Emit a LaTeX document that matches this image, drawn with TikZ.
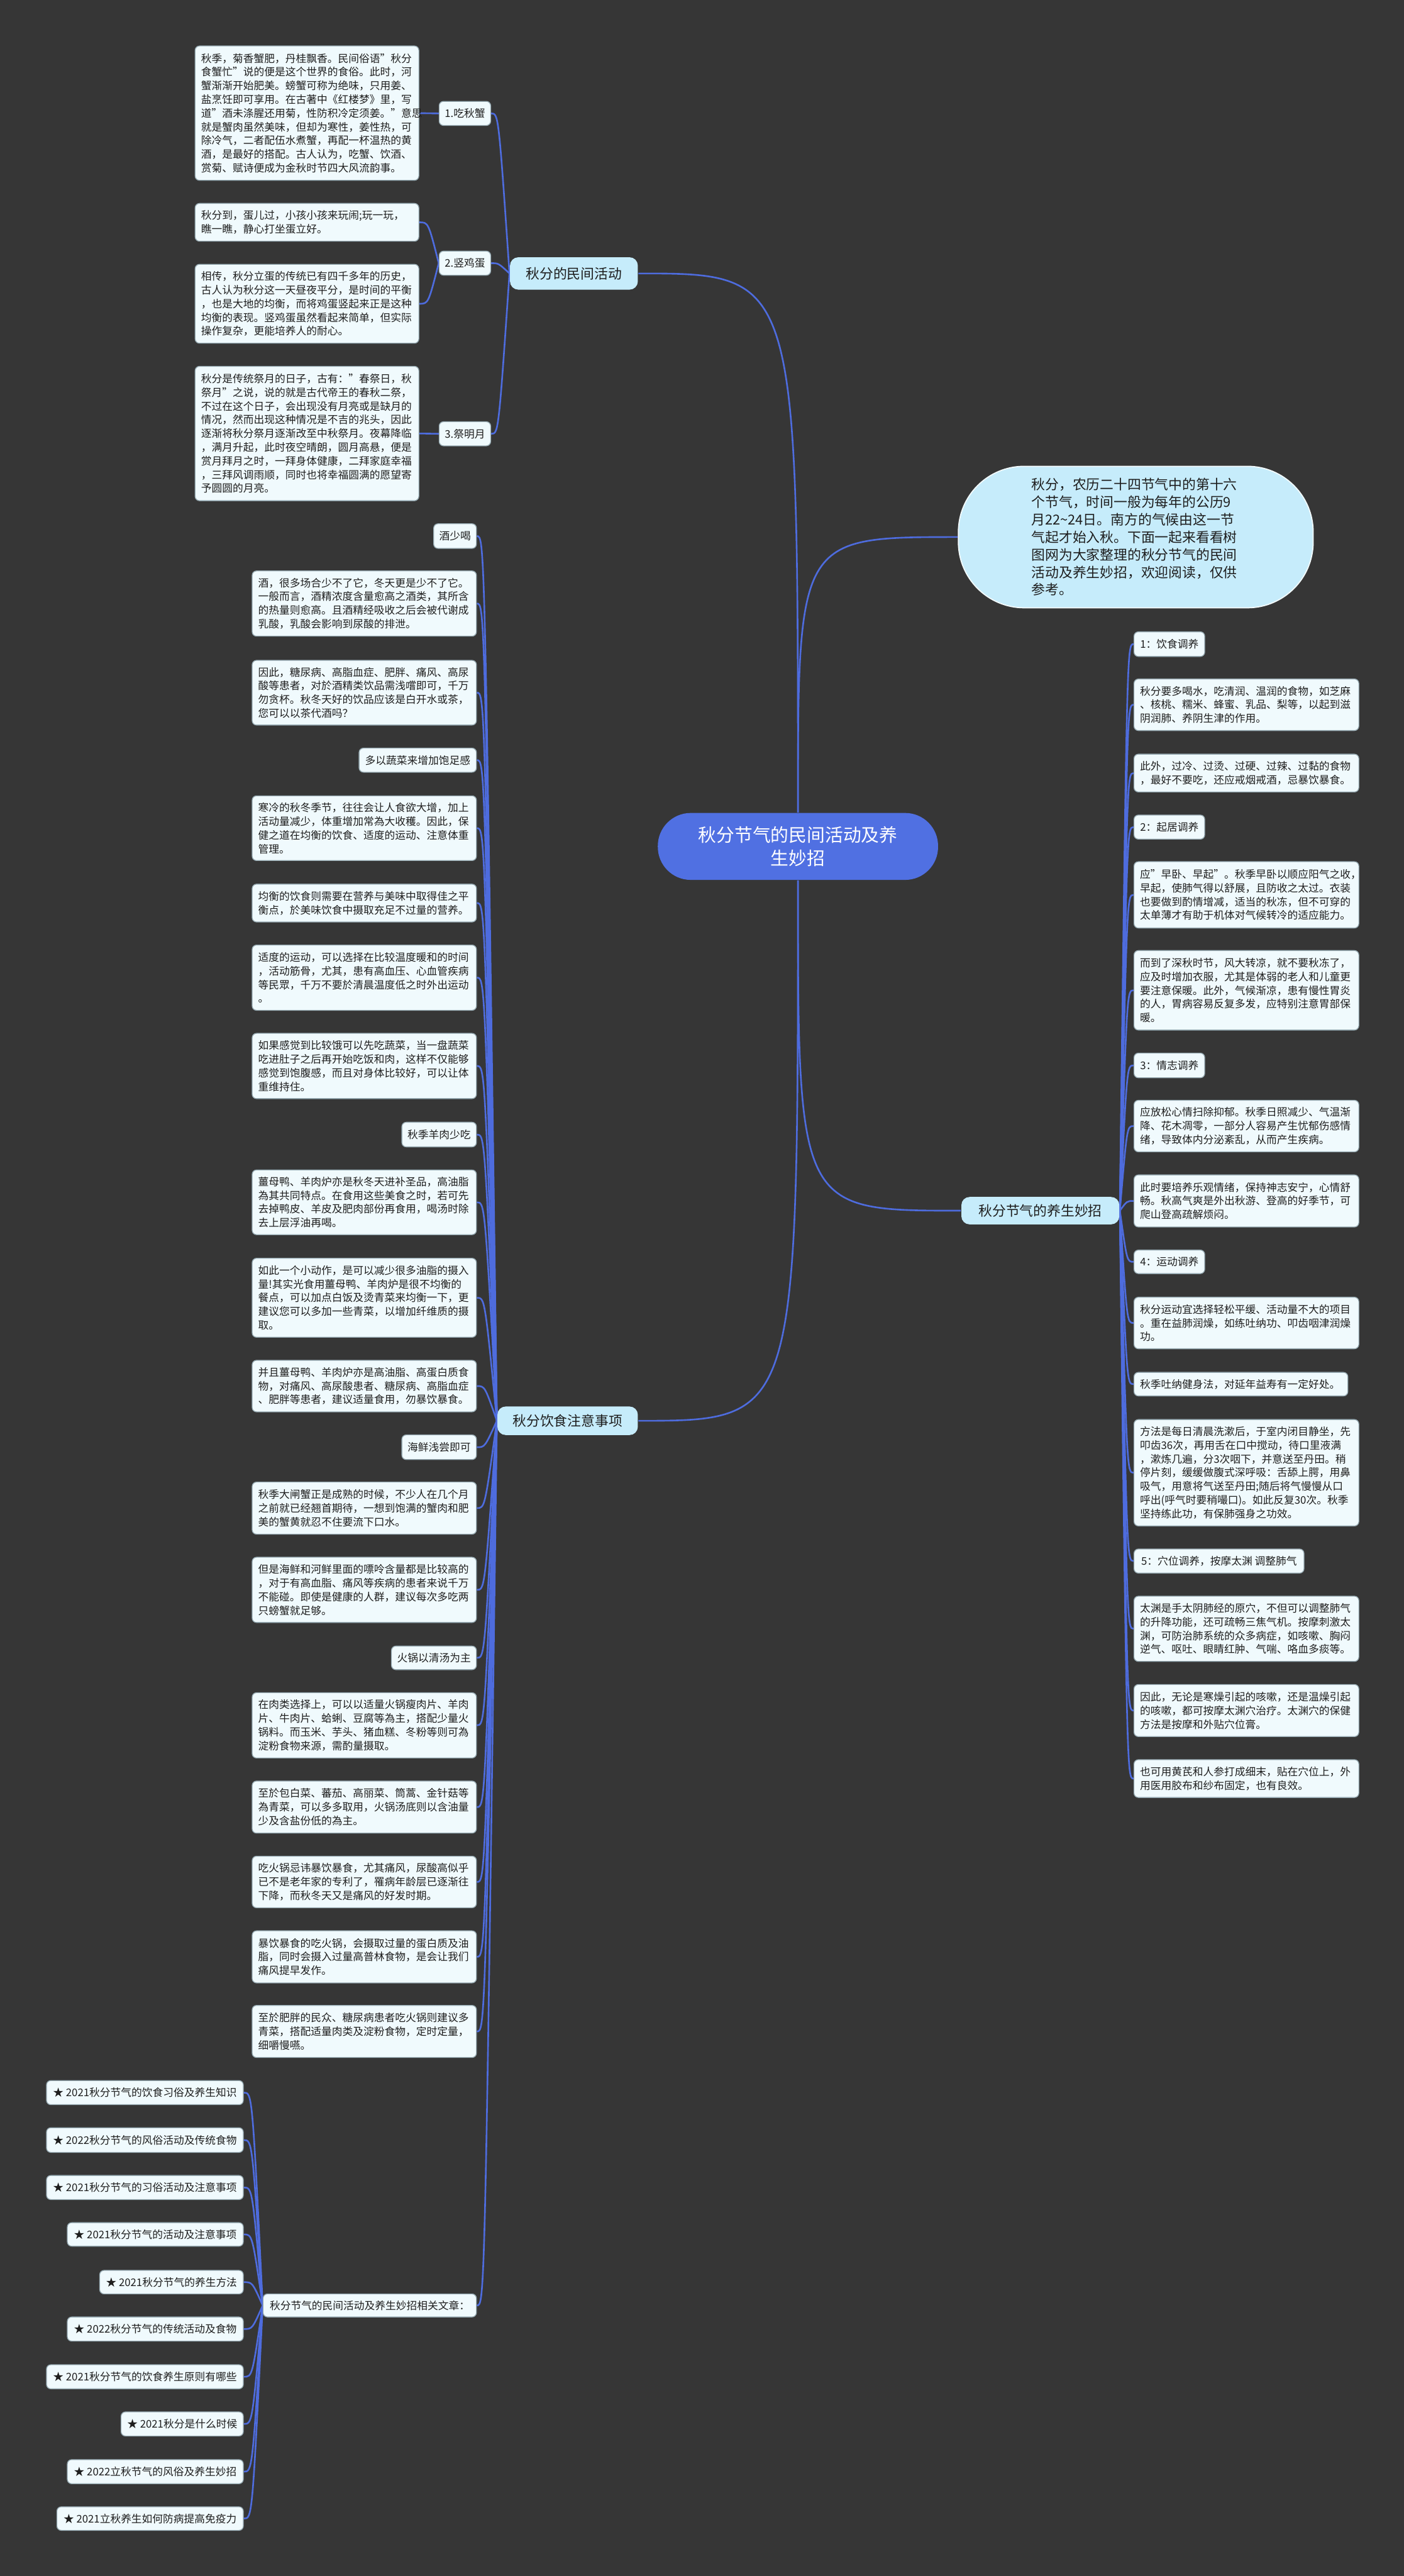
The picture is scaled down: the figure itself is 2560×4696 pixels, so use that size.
\documentclass[tikz,border=0pt]{standalone}
\usepackage{fontspec}
\setmainfont{Noto Sans CJK SC}
\usetikzlibrary{backgrounds}
\definecolor{bgc}{RGB}{54,54,54}
\definecolor{connc}{RGB}{78,108,222}
\definecolor{ctrc}{RGB}{80,112,226}
\definecolor{topc}{RGB}{198,236,251}
\definecolor{leafc}{RGB}{240,250,253}
\definecolor{leafd}{RGB}{150,170,178}
\definecolor{txtc}{RGB}{30,30,30}
\newcommand\fsS{\fontsize{3.84pt}{5pt}\selectfont}
\newcommand\fsM{\fontsize{5pt}{6.4pt}\selectfont}
\newcommand\fsL{\fontsize{6.6pt}{8.6pt}\selectfont}
\newdimen\bxtw
\newcommand\bx[7]{\bxtw=0.2pt\multiply\bxtw by \numexpr #5-#3-22\relax
\node[#1,anchor=north west,minimum width={(#5-#3)*0.2pt},minimum height={(#6-#4)*0.2pt},text width=\the\bxtw] (#2) at (#3,#4) {#7};}
\newcommand\lb[7]{\node[#1,anchor=north west,minimum width={(#5-#3)*0.2pt},minimum height={(#6-#4)*0.2pt}] (#2) at (#3,#4) {#7};}
\tikzset{
 leaf/.style={draw=leafd,line width=0.3pt,fill=leafc,rounded corners=1.6pt,inner sep=0pt,align=left,font=\fsS,text=txtc},
 lbl/.style={draw=leafd,line width=0.3pt,fill=leafc,rounded corners=1.6pt,inner sep=0pt,align=center,font=\fsS,text=txtc},
 topic/.style={fill=topc,rounded corners=3pt,inner sep=0pt,font=\fsM,text=txtc},
 conn/.style={draw=connc,line width=0.6pt},
}
\begin{document}
\begin{tikzpicture}[x=0.2pt,y=-0.2pt]
\useasboundingbox (0,0) rectangle (2560,4696);
% center
\node[fill=ctrc,rounded corners=12pt,minimum width=102.2pt,minimum height=24.4pt,inner sep=0pt,align=center,font=\fsL,text=white] (c) at (1455,1543) {秋分节气的民间活动及养\\生妙招};
% intro
\node[fill=topc,draw=white!80!topc,line width=0.4pt,rounded corners=24pt,minimum width=129.4pt,minimum height=51.6pt,inner sep=0pt,text width=76pt,align=left,font=\fsM,text=txtc] (intro) at (2071,979) {秋分，农历二十四节气中的第十六\\个节气，时间一般为每年的公历9\\月22\textasciitilde24日。南方的气候由这一节\\气起才始入秋。下面一起来看看树\\图网为大家整理的秋分节气的民间\\活动及养生妙招，欢迎阅读，仅供\\参考。};
% topics
\lb{topic}{act}{929}{468}{1162}{527}{秋分的民间活动}
\lb{topic}{ys}{906}{2563}{1162}{2615}{秋分饮食注意事项}
\lb{topic}{yang}{1752}{2181}{2040}{2231}{秋分节气的养生妙招}
% top-left
\bx{leaf}{b1}{355}{83}{763}{328}{秋季，菊香蟹肥，丹桂飘香。民间俗语"秋分\\食蟹忙"说的便是这个世界的食俗。此时，河\\蟹渐渐开始肥美。螃蟹可称为绝味，只用姜、\\盐烹饪即可享用。在古著中《红楼梦》里，写\\道"酒未涤腥还用菊，性防积冷定须姜。"意思\\就是蟹肉虽然美味，但却为寒性，姜性热，可\\除冷气，二者配伍水煮蟹，再配一杯温热的黄\\酒，是最好的搭配。古人认为，吃蟹、饮酒、\\赏菊、赋诗便成为金秋时节四大风流韵事。}
\bx{leaf}{b2}{355}{370}{763}{439}{秋分到，蛋儿过，小孩小孩来玩闹;玩一玩，\\瞧一瞧，静心打坐蛋立好。}
\bx{leaf}{b3}{355}{481}{763}{625}{相传，秋分立蛋的传统已有四千多年的历史，\\古人认为秋分这一天昼夜平分，是时间的平衡\\，也是大地的均衡，而将鸡蛋竖起来正是这种\\均衡的表现。竖鸡蛋虽然看起来简单，但实际\\操作复杂，更能培养人的耐心。}
\bx{leaf}{b4}{355}{667}{763}{912}{秋分是传统祭月的日子，古有："春祭日，秋\\祭月"之说，说的就是古代帝王的春秋二祭，\\不过在这个日子，会出现没有月亮或是缺月的\\情况，然而出现这种情况是不吉的兆头，因此\\逐渐将秋分祭月逐渐改至中秋祭月。夜幕降临\\，满月升起，此时夜空晴朗，圆月高悬，便是\\赏月拜月之时，一拜身体健康，二拜家庭幸福\\，三拜风调雨顺，同时也将幸福圆满的愿望寄\\予圆圆的月亮。}
\lb{lbl}{l1}{800}{184}{894}{228}{1.吃秋蟹}
\lb{lbl}{l2}{800}{457}{894}{501}{2.竖鸡蛋}
\lb{lbl}{l3}{800}{768}{894}{812}{3.祭明月}
% middle column
\lb{lbl}{jiu}{790}{954}{868}{999}{酒少喝}
\bx{leaf}{m1}{459}{1040}{868}{1159}{酒，很多场合少不了它，冬天更是少不了它。\\一般而言，酒精浓度含量愈高之酒类，其所含\\的热量则愈高。且酒精经吸收之后会被代谢成\\乳酸，乳酸会影响到尿酸的排泄。}
\bx{leaf}{m2}{459}{1203}{868}{1321}{因此，糖尿病、高脂血症、肥胖、痛风、高尿\\酸等患者，对於酒精类饮品需浅嚐即可，千万\\勿贪杯。秋冬天好的饮品应该是白开水或茶，\\您可以以茶代酒吗？}
\lb{lbl}{shucai}{654}{1363}{868}{1407}{多以蔬菜来增加饱足感}
\bx{leaf}{m3}{459}{1450}{868}{1568}{寒冷的秋冬季节，往往会让人食欲大增，加上\\活动量减少，体重增加常為大收穫。因此，保\\健之道在均衡的饮食、适度的运动、注意体重\\管理。}
\bx{leaf}{m4}{459}{1611}{868}{1680}{均衡的饮食则需要在营养与美味中取得佳之平\\衡点，於美味饮食中摄取充足不过量的营养。}
\bx{leaf}{m5}{459}{1722}{868}{1841}{适度的运动，可以选择在比较温度暖和的时间\\，活动筋骨，尤其，患有高血压、心血管疾病\\等民眾，千万不要於清晨温度低之时外出运动\\。}
\bx{leaf}{m6}{459}{1883}{868}{2002}{如果感觉到比较饿可以先吃蔬菜，当一盘蔬菜\\吃进肚子之后再开始吃饭和肉，这样不仅能够\\感觉到饱腹感，而且对身体比较好，可以让体\\重维持住。}
\lb{lbl}{yrou}{732}{2045}{868}{2090}{秋季羊肉少吃}
\bx{leaf}{m7}{459}{2132}{868}{2250}{薑母鸭、羊肉炉亦是秋冬天进补圣品，高油脂\\為其共同特点。在食用这些美食之时，若可先\\去掉鸭皮、羊皮及肥肉部份再食用，喝汤时除\\去上层浮油再喝。}
\bx{leaf}{m8}{459}{2293}{868}{2437}{如此一个小动作，是可以减少很多油脂的摄入\\量!其实光食用薑母鸭、羊肉炉是很不均衡的\\餐点，可以加点白饭及烫青菜来均衡一下，更\\建议您可以多加一些青菜，以增加纤维质的摄\\取。}
\bx{leaf}{m9}{459}{2479}{868}{2573}{并且薑母鸭、羊肉炉亦是高油脂、高蛋白质食\\物，对痛风、高尿酸患者、糖尿病、高脂血症\\、肥胖等患者，建议适量食用，勿暴饮暴食。}
\lb{lbl}{haixian}{732}{2615}{868}{2660}{海鲜浅尝即可}
\bx{leaf}{m10}{459}{2701}{868}{2796}{秋季大闸蟹正是成熟的时候，不少人在几个月\\之前就已经翘首期待，一想到饱满的蟹肉和肥\\美的蟹黄就忍不住要流下口水。}
\bx{leaf}{m11}{459}{2838}{868}{2957}{但是海鲜和河鲜里面的嘌呤含量都是比较高的\\，对于有高血脂、痛风等疾病的患者来说千万\\不能碰。即使是健康的人群，建议每次多吃两\\只螃蟹就足够。}
\lb{lbl}{huoguo}{713}{3000}{868}{3043}{火锅以清汤为主}
\bx{leaf}{m12}{459}{3085}{868}{3204}{在肉类选择上，可以以适量火锅瘦肉片、羊肉\\片、牛肉片、蛤蜊、豆腐等為主，搭配少量火\\锅料。而玉米、芋头、猪血糕、冬粉等则可為\\淀粉食物来源，需酌量摄取。}
\bx{leaf}{m13}{459}{3246}{868}{3341}{至於包白菜、蕃茄、高丽菜、筒蒿、金针菇等\\為青菜，可以多多取用，火锅汤底则以含油量\\少及含盐份低的為主。}
\bx{leaf}{m14}{459}{3383}{868}{3477}{吃火锅忌讳暴饮暴食，尤其痛风，尿酸高似乎\\已不是老年家的专利了，罹病年龄层已逐渐往\\下降，而秋冬天又是痛风的好发时期。}
\bx{leaf}{m15}{459}{3519}{868}{3614}{暴饮暴食的吃火锅，会摄取过量的蛋白质及油\\脂，同时会摄入过量高普林食物，是会让我们\\痛风提早发作。}
\bx{leaf}{m16}{459}{3655}{868}{3750}{至於肥胖的民众、糖尿病患者吃火锅则建议多\\青菜，搭配适量肉类及淀粉食物，定时定量，\\细嚼慢嚥。}
% bottom list
\lb{lbl}{rel}{479}{4181}{868}{4223}{秋分节气的民间活动及养生妙招相关文章：}
\lb{lbl}{it1}{84}{3792}{443}{3836}{★ 2021秋分节气的饮食习俗及养生知识}
\lb{lbl}{it2}{84}{3878}{443}{3923}{★ 2022秋分节气的风俗活动及传统食物}
\lb{lbl}{it3}{84}{3965}{443}{4009}{★ 2021秋分节气的习俗活动及注意事项}
\lb{lbl}{it4}{122}{4051}{443}{4094}{★ 2021秋分节气的活动及注意事项}
\lb{lbl}{it5}{181}{4138}{443}{4181}{★ 2021秋分节气的养生方法}
\lb{lbl}{it6}{122}{4223}{443}{4267}{★ 2022秋分节气的传统活动及食物}
\lb{lbl}{it7}{84}{4310}{443}{4354}{★ 2021秋分节气的饮食养生原则有哪些}
\lb{lbl}{it8}{220}{4396}{443}{4440}{★ 2021秋分是什么时候}
\lb{lbl}{it9}{122}{4483}{443}{4527}{★ 2022立秋节气的风俗及养生妙招}
\lb{lbl}{it10}{103}{4569}{443}{4612}{★ 2021立秋养生如何防病提高免疫力}
% right side
\lb{lbl}{r1}{2067}{1151}{2196}{1196}{1：饮食调养}
\bx{leaf}{ra}{2067}{1237}{2477}{1331}{秋分要多喝水，吃清润、温润的食物，如芝麻\\、核桃、糯米、蜂蜜、乳品、梨等，以起到滋\\阴润肺、养阴生津的作用。}
\bx{leaf}{rb}{2067}{1374}{2477}{1443}{此外，过冷、过烫、过硬、过辣、过黏的食物\\，最好不要吃，还应戒烟戒酒，忌暴饮暴食。}
\lb{lbl}{r2}{2067}{1485}{2196}{1529}{2：起居调养}
\bx{leaf}{rc}{2067}{1570}{2477}{1691}{应"早卧、早起"。秋季早卧以顺应阳气之收，\\早起，使肺气得以舒展，且防收之太过。衣装\\也要做到酌情增减，适当的秋冻，但不可穿的\\太单薄才有助于机体对气候转冷的适应能力。}
\bx{leaf}{rd}{2067}{1732}{2477}{1877}{而到了深秋时节，风大转凉，就不要秋冻了，\\应及时增加衣服，尤其是体弱的老人和儿童更\\要注意保暖。此外，气候渐凉，患有慢性胃炎\\的人，胃病容易反复多发，应特别注意胃部保\\暖。}
\lb{lbl}{r3}{2067}{1919}{2196}{1964}{3：情志调养}
\bx{leaf}{re}{2067}{2005}{2477}{2099}{应放松心情扫除抑郁。秋季日照减少、气温渐\\降、花木凋零，一部分人容易产生忧郁伤感情\\绪，导致体内分泌紊乱，从而产生疾病。}
\bx{leaf}{rf}{2067}{2141}{2477}{2236}{此时要培养乐观情绪，保持神志安宁，心情舒\\畅。秋高气爽是外出秋游、登高的好季节，可\\爬山登高疏解烦闷。}
\lb{lbl}{r4}{2067}{2278}{2196}{2321}{4：运动调养}
\bx{leaf}{rg}{2067}{2364}{2477}{2458}{秋分运动宜选择轻松平缓、活动量不大的项目\\。重在益肺润燥，如练吐纳功、叩齿咽津润燥\\功。}
\bx{leaf}{rh}{2067}{2501}{2457}{2544}{秋季吐纳健身法，对延年益寿有一定好处。}
\bx{leaf}{ri}{2067}{2587}{2477}{2781}{方法是每日清晨洗漱后，于室内闭目静坐，先\\叩齿36次，再用舌在口中搅动，待口里液满\\，漱炼几遍，分3次咽下，并意送至丹田。稍\\停片刻，缓缓做腹式深呼吸：舌舔上腭，用鼻\\吸气，用意将气送至丹田;随后将气慢慢从口\\呼出(呼气时要稍嘬口)。如此反复30次。秋季\\坚持练此功，有保肺强身之功效。}
\lb{lbl}{r5}{2067}{2823}{2377}{2867}{5：穴位调养，按摩太渊 调整肺气}
\bx{leaf}{rj}{2067}{2909}{2477}{3028}{太渊是手太阴肺经的原穴，不但可以调整肺气\\的升降功能，还可疏畅三焦气机。按摩刺激太\\渊，可防治肺系统的众多病症，如咳嗽、胸闷\\逆气、呕吐、眼睛红肿、气喘、咯血多痰等。}
\bx{leaf}{rk}{2067}{3070}{2477}{3165}{因此，无论是寒燥引起的咳嗽，还是温燥引起\\的咳嗽，都可按摩太渊穴治疗。太渊穴的保健\\方法是按摩和外贴穴位膏。}
\bx{leaf}{rl}{2067}{3207}{2477}{3276}{也可用黄芪和人参打成细末，贴在穴位上，外\\用医用胶布和纱布固定，也有良效。}
% trunk coordinates
\coordinate (tA) at (909,0);
\coordinate (tB) at (781,0);
\coordinate (tM) at (884,0);
\coordinate (tR) at (2055,0);
\coordinate (tL) at (460,0);
\begin{scope}[on background layer]
\fill[bgc] (0,0) rectangle (2560,4696);
\draw[conn] (c.north) .. controls (c.north |- act.east) .. (act.east);
\draw[conn] (c.north) .. controls (c.north |- intro.west) .. (intro.west);
\draw[conn] (c.south) .. controls (c.south |- ys.east) .. (ys.east);
\draw[conn] (c.south) .. controls (c.south |- yang.west) .. (yang.west);
\draw[conn] (ys.west) .. controls (tM |- rel.east) .. (rel.east);
\foreach \n in {l1,l2,l3} \draw[conn] (act.west) .. controls (tA |- \n.east) .. (\n.east);
\draw[conn] (l1.west) -- (b1.east);
\draw[conn] (l2.west) .. controls (tB |- b2.east) .. (b2.east);
\draw[conn] (l2.west) .. controls (tB |- b3.east) .. (b3.east);
\draw[conn] (l3.west) -- (b4.east);
\foreach \n in {jiu,m1,m2,shucai,m3,m4,m5,m6,yrou,m7,m8,m9,haixian,m10,m11,huoguo,m12,m13,m14,m15,m16}
  \draw[conn] (ys.west) .. controls (tM |- \n.east) .. (\n.east);
\foreach \n in {r1,ra,rb,r2,rc,rd,r3,re,rf,r4,rg,rh,ri,r5,rj,rk,rl}
  \draw[conn] (yang.east) .. controls (tR |- \n.west) .. (\n.west);
\foreach \n in {it1,it2,it3,it4,it5,it6,it7,it8,it9,it10}
  \draw[conn] (rel.west) .. controls (tL |- \n.east) .. (\n.east);
\end{scope}
\end{tikzpicture}
\end{document}
